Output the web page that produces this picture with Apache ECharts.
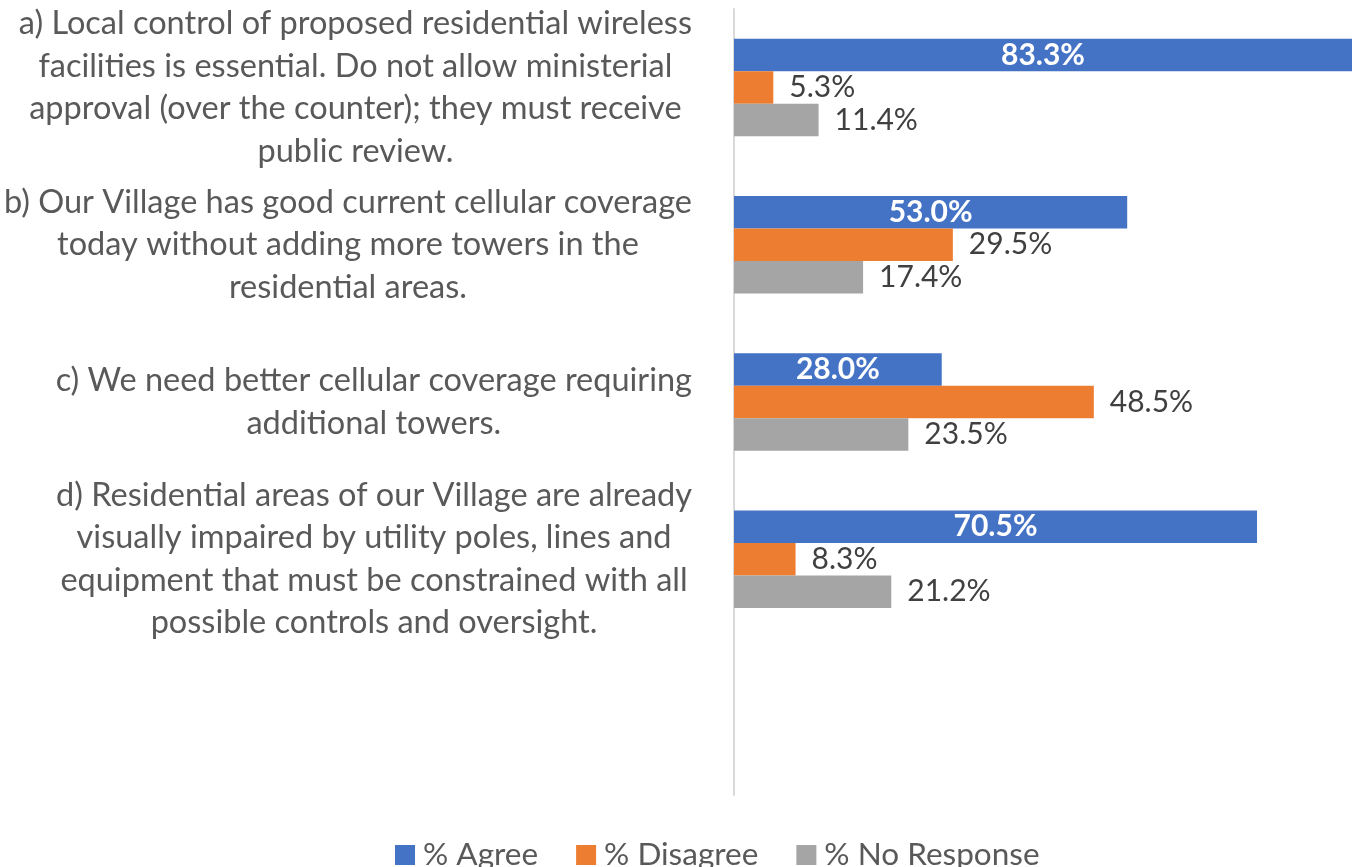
<!DOCTYPE html>
<html>
<head>
<meta charset="utf-8">
<script src="https://cdn.jsdelivr.net/npm/echarts@6/dist/echarts.min.js"></script>
<style>
html,body{margin:0;padding:0;background:#fff;}
#chart{width:1356px;height:867px;}
</style>
</head>
<body>
<div id="chart"></div>
<script>
const categories = [
  "a) Local control of proposed residential wireless\nfacilities is essential. Do not allow ministerial\napproval (over the counter); they must receive\npublic review.",
  "b) Our Village has good current cellular coverage\ntoday without adding more towers in the\nresidential areas.",
  "c) We need better cellular coverage requiring\nadditional towers.",
  "d) Residential areas of our Village are already\nvisually impaired by utility poles, lines and\nequipment that must be constrained with all\npossible controls and oversight.",
  ""
];
const seriesNames = ["% Agree", "% Disagree", "% No Response"];
const agree = [83.3, 53.0, 28.0, 70.5];
const disagree = [5.3, 29.5, 48.5, 8.3];
const noResponse = [11.4, 17.4, 23.5, 21.2];

const FONT = "Lato";
const colors = ["#4472C4", "#ED7D31", "#A5A5A5"];
const chart = echarts.init(document.getElementById('chart'));

function outsideLabel() {
  return {show: true, position: 'right', distance: 16, color: '#404040', fontSize: 30, fontFamily: FONT,
    formatter: p => p.value.toFixed(1) + '%'};
}

chart.setOption({
  animation: false,
  color: colors,
  textStyle: {fontFamily: FONT},
  grid: {left: 734, right: 4, top: 9, bottom: 72, containLabel: false},
  xAxis: {type: 'value', min: 0, max: 83.3, show: false},
  yAxis: {
    type: 'category', inverse: true, data: categories,
    axisLine: {show: true, lineStyle: {color: '#D9D9D9', width: 2}},
    axisTick: {show: false},
    axisLabel: {
      margin: 42, align: 'right', fontFamily: FONT, fontSize: 32.5, color: '#595959', lineHeight: 42.5,
      formatter: v => v.split('\n').map(s => '{c|' + s + '}').join('\n'),
      rich: {c: {align: 'center', fontSize: 32.5, color: '#595959', lineHeight: 42.5, fontFamily: FONT}}
    },
    splitLine: {show: false}
  },
  legend: {
    top: 834, left: 390, itemWidth: 20, itemHeight: 20, itemGap: 38, icon: 'rect',
    textStyle: {fontSize: 31.5, color: '#595959', fontFamily: FONT, padding: [0, 0, 0, 3]},
    data: seriesNames
  },
  series: [
    {name: seriesNames[0], type: 'bar', data: agree, barGap: '0%', barCategoryGap: '38%',
      label: {show: true, position: 'inside', color: '#fff', fontWeight: 'bold', fontSize: 30, fontFamily: FONT,
        formatter: p => p.value.toFixed(1) + '%'}},
    {name: seriesNames[1], type: 'bar', data: disagree, label: outsideLabel()},
    {name: seriesNames[2], type: 'bar', data: noResponse, label: outsideLabel()}
  ]
});
</script>
</body>
</html>
